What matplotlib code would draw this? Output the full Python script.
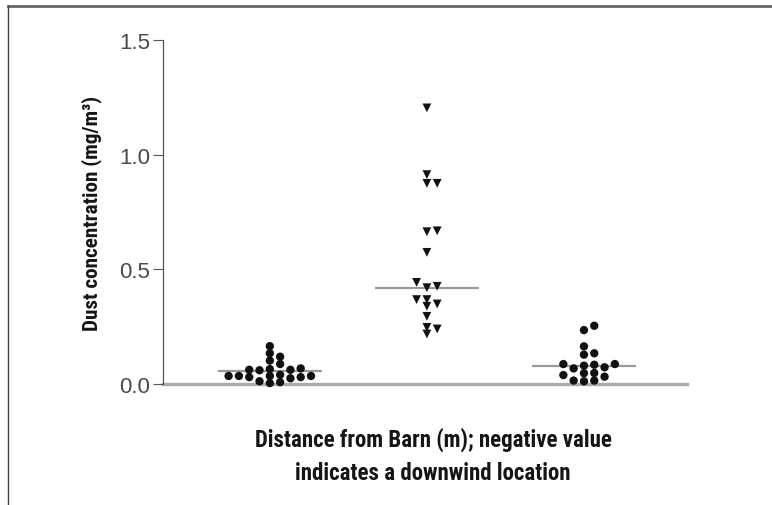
import matplotlib
matplotlib.use('Agg')
import matplotlib.pyplot as plt
from matplotlib.lines import Line2D
import numpy as np

# ---- data ----
group_positions = [0, 1, 2]
group1 = [0.165, 0.134, 0.119, 0.102, 0.087,
          0.065, 0.062, 0.060, 0.062, 0.068,
          0.035, 0.035, 0.030, 0.035, 0.035, 0.025, 0.030, 0.040,
          0.008, 0.004, 0.012]
group2 = [1.204, 0.913, 0.875, 0.875, 0.668, 0.664, 0.574,
          0.426, 0.420, 0.443, 0.368, 0.339, 0.349, 0.368,
          0.295, 0.247, 0.218, 0.240]
group3 = [0.254, 0.235, 0.164, 0.128, 0.134,
          0.087, 0.084, 0.073, 0.068, 0.080, 0.087,
          0.047, 0.039, 0.032, 0.048,
          0.015, 0.012, 0.015]
medians = [0.057, 0.42, 0.078]
markers = ['o', 'v', 'o']
yticks = [0.0, 0.5, 1.0, 1.5]
ytick_labels = ['0.0', '0.5', '1.0', '1.5']
ylabel = 'Dust concentration (mg/m³)'
xlabel_lines = ['Distance from Barn (m); negative value', 'indicates a downwind location']

groups = [group1, group2, group3]

W, H = 772, 506
fig = plt.figure(figsize=(W / 100, H / 100), dpi=100)
fig.patch.set_facecolor('white')

fig.add_artist(Line2D([8 / W, 1.0], [1 - 7 / H, 1 - 7 / H], transform=fig.transFigure,
                      color='#666666', lw=2.0))
fig.add_artist(Line2D([8 / W, 8 / W], [0, 1 - 7 / H], transform=fig.transFigure,
                      color='#444444', lw=1.0))

ax = fig.add_axes([163 / W, 121 / H, (687 - 163) / W, 344 / H])
ax.set_xlim(-0.68, 2.656)
ax.set_ylim(0, 1.5)
ax.set_facecolor('none')

for s in ['top', 'right']:
    ax.spines[s].set_visible(False)
ax.spines['left'].set_color('#555555')
ax.spines['left'].set_linewidth(0.9)
ax.spines['bottom'].set_color('#aaaaaa')
ax.spines['bottom'].set_linewidth(2.4)
ax.spines['bottom'].set_zorder(1)

ax.set_xticks([])
ax.set_yticks(yticks)
ax.set_yticklabels(ytick_labels)
ax.tick_params(axis='y', length=7, width=0.8, color='#555555', pad=2,
               labelsize=16, labelcolor='#4a4a4a')
for lab in ax.get_yticklabels():
    lab.set_fontfamily(['Liberation Sans', 'DejaVu Sans'])

fig.canvas.draw()
px_per_x = ax.transData.transform((1, 0))[0] - ax.transData.transform((0, 0))[0]


def swarm_offsets(values, x0, step_px=10.3, min_dy=6.6):
    vals = np.asarray(values, dtype=float)
    ypix = ax.transData.transform(np.column_stack([np.full(len(vals), x0), vals]))[:, 1]
    order = np.argsort(ypix)
    cols = {}
    offs = np.zeros(len(vals))
    cand = [0]
    for j in range(1, 20):
        cand += [j, -j]
    for i in order:
        for c in cand:
            if all(abs(ypix[i] - yy) >= min_dy for yy in cols.get(c, [])):
                cols.setdefault(c, []).append(ypix[i])
                offs[i] = c * step_px
                break
    return offs / px_per_x


for pos, vals, mk, med in zip(group_positions, groups, markers, medians):
    dx = swarm_offsets(vals, pos)
    ms = 36 if mk == 'o' else 40
    ax.scatter(np.full(len(vals), pos) + dx, vals, marker=mk, s=ms,
               color='#111111', edgecolors='none', zorder=3, clip_on=False)
    ax.plot([pos - 0.33, pos + 0.33], [med, med], color='#999999', lw=1.6,
            zorder=2, solid_capstyle='butt')

label_family = ['Roboto Condensed', 'PT Sans Narrow', 'Liberation Sans', 'DejaVu Sans']
ax.set_ylabel(ylabel, fontsize=15.2, fontweight='bold', family=label_family, color='#151515')
ax.yaxis.set_label_coords(-0.117, 0.5)

for txt, ypx in zip(xlabel_lines, [440, 473]):
    fig.text(433 / W, 1 - ypx / H, txt, ha='center', va='center', fontsize=16.5,
             fontweight='bold', family=label_family, color='#151515')

fig.savefig('out.png', dpi=100, facecolor='white')
